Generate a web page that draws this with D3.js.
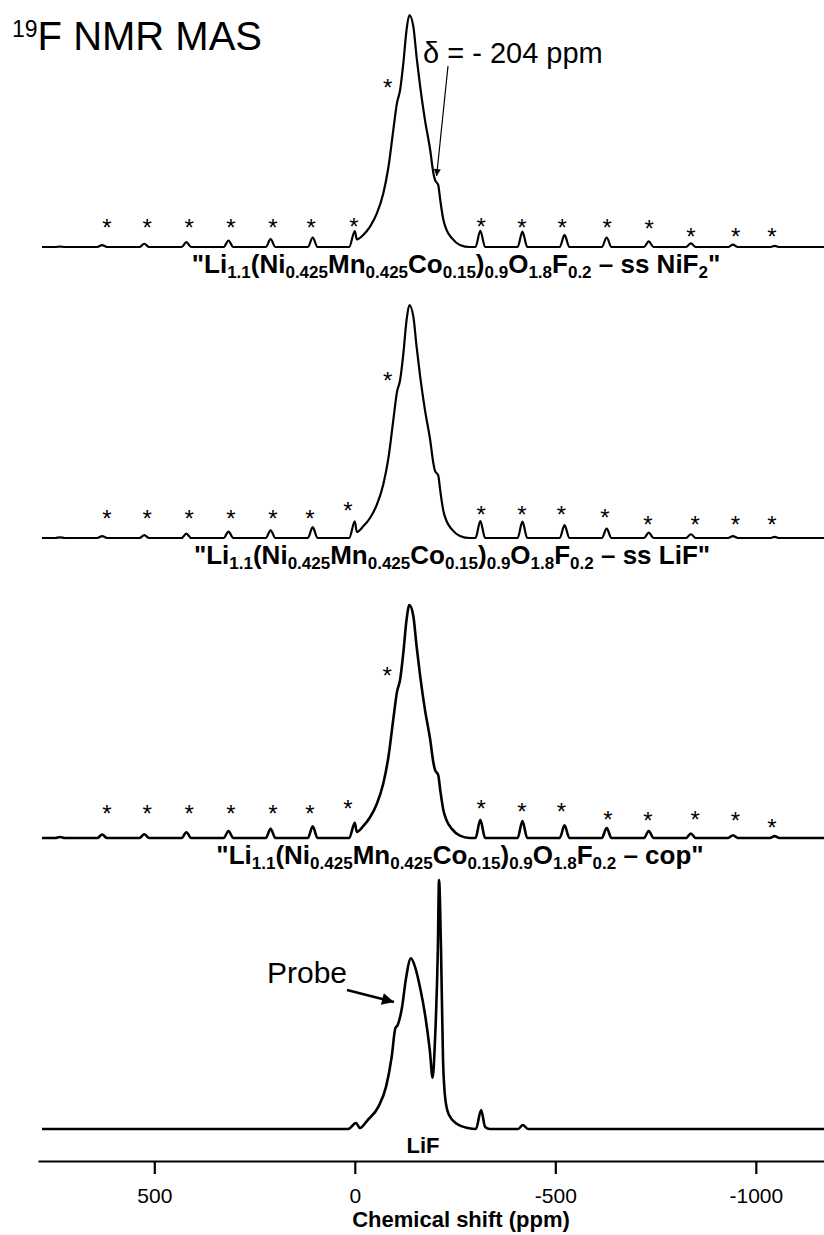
<!doctype html>
<html>
<head>
<meta charset="utf-8">
<script src="https://cdn.jsdelivr.net/npm/d3@7"></script>
<style>
  body { margin: 0; background: #fff; }
  svg { display: block; font-family: "Liberation Sans", Arial, sans-serif; }
</style>
</head>
<body>
<svg width="824" height="1235"></svg>
<script>
// spinning sidebands (ppm) of the three fluorinated samples (the one at 0 ppm sits in the main trace)
var sbPpm = [735, 630, 525, 420, 315, 210, 105, -313, -418, -523, -628, -733, -838, -943, -1047];
// sideband heights, main peak = 100
var sb1 = [0.2, 0.8, 1.4, 2.1, 2.8, 3.4, 4.1, 7.0, 6.6, 5.2, 4.1, 2.4, 1.6, 1.0, 0.5];
var sb2 = [0.3, 0.8, 1.2, 1.9, 2.7, 3.3, 4.7, 7.3, 7.0, 5.5, 4.0, 2.3, 1.6, 0.8, 0.5];
var sb3 = [0.4, 1.5, 1.6, 2.5, 3.0, 4.0, 5.0, 7.8, 7.3, 5.4, 4.3, 3.0, 1.9, 1.2, 0.8];

// main resonance (with the 0 ppm sideband on its left flank)
var mainPpm = [14, 0, -5, -21, -38, -55, -71, -84, -96, -105, -113, -121, -129, -136, -146, -154, -163, -175, -188, -196, -200, -208, -213, -221, -229, -242, -262, -287];
var main1 = [0, 6.8, 3.3, 5.2, 8.8, 14.5, 23.1, 34.6, 50.4, 61.9, 67.7, 79.2, 93.5, 100, 95.0, 82.0, 69.1, 54.7, 41.8, 31.8, 28.9, 26.7, 20.3, 11.6, 7.3, 3.8, 0.9, 0];
var main2 = [0, 7.1, 2.6, 5.0, 8.6, 14.3, 23.0, 34.5, 50.6, 62.5, 67.8, 79.0, 93.4, 100, 95.0, 82.2, 69.3, 54.9, 42.0, 32.0, 28.8, 26.9, 20.4, 11.5, 7.2, 3.7, 0.9, 0];
var main3 = [0, 6.5, 2.6, 5.1, 8.9, 14.7, 23.4, 35.0, 51.0, 62.5, 68.0, 79.5, 93.6, 100, 95.2, 82.4, 69.5, 55.0, 42.2, 32.3, 29.2, 27.0, 20.6, 11.8, 7.5, 3.9, 1.0, 0];

// LiF reference sample (LiF line = 100)
var lifPpm = [17, -3, -13, -32, -59, -78, -92, -101, -107, -118, -127, -140, -150, -164, -176, -187, -194, -200, -207, -210, -215, -220, -226, -235, -255, -282, -302, -315, -325, -337, -407, -419, -432];
var lifInt = [0, 2.4, 0.4, 3.6, 9.0, 17.0, 29.0, 40.4, 41.8, 49.1, 59.8, 68.6, 65.2, 55.8, 45.1, 31.7, 20.6, 35.7, 71.9, 100, 71.9, 27.7, 11.6, 5.6, 2.0, 0.4, 0, 7.6, 0.8, 0, 0, 1.6, 0];

// asterisks marking sidebands: ppm and height (same units as the trace)
var starPpm1 = [618, 518, 413, 309, 204, 109, 2, -82, -315, -417, -517, -629, -734, -838, -950, -1040];
var starLvl1 = [10.3, 10.3, 10.3, 10.3, 10.3, 10.3, 10.8, 70.7, 10.8, 10.3, 10.3, 10.3, 9.8, 6.5, 6.5, 6.5];
var starPpm2 = [618, 518, 413, 309, 204, 112, 17, -82, -315, -417, -515, -624, -731, -849, -949, -1040];
var starLvl2 = [10.5, 10.5, 10.5, 10.5, 10.5, 10.5, 13.7, 69.5, 11.9, 11.9, 11.9, 10.9, 7.9, 7.9, 7.9, 7.9];
var starPpm3 = [618, 518, 413, 309, 204, 112, 17, -81, -315, -417, -515, -631, -731, -849, -949, -1040];
var starLvl3 = [12.3, 12.3, 12.3, 12.3, 12.3, 12.3, 14.5, 71.7, 14.5, 13.4, 13.4, 9.9, 9.4, 9.9, 9.4, 6.3];

var tickValues = [500, 0, -500, -1000];

var svg = d3.select("svg"),
    W = 824, H = 1235;

var x = d3.scaleLinear().domain([790, -1170]).range([38, W]);

// one vertical band per spectrum: baseline and top of the tallest line
var panels = [
    { base: 247, top: 15, sb: sb1, main: main1, sp: starPpm1, sl: starLvl1, label: "ss NiF", tail: "2", sw: 2.2 },
    { base: 538, top: 305, sb: sb2, main: main2, sp: starPpm2, sl: starLvl2, label: "ss LiF", tail: "", sw: 2.2 },
    { base: 838, top: 605, sb: sb3, main: main3, sp: starPpm3, sl: starLvl3, label: "cop", tail: "", sw: 2.6 }
];
var labelX = [456, 452, 460];

function trace(p) {
    var pts = [[780, 0], [-1170, 0]];
    sbPpm.forEach(function(q, i) {
        pts.push([q + 12, 0], [q, p.sb[i]], [q - 12, 0]);
    });
    mainPpm.forEach(function(q, i) { pts.push([q, p.main[i]]); });
    pts.sort(function(a, b) { return b[0] - a[0]; });
    return pts;
}

panels.forEach(function(p, k) {
    var y = d3.scaleLinear().domain([0, 100]).range([p.base, p.top]);
    var line = d3.line()
        .x(function(d) { return x(d[0]); })
        .y(function(d) { return y(d[1]); })
        .curve(d3.curveMonotoneX);

    svg.append("path")
        .datum(trace(p))
        .attr("d", line)
        .attr("fill", "none")
        .attr("stroke", "#000")
        .attr("stroke-width", p.sw)
        .attr("stroke-linejoin", "round");

    svg.selectAll(".star" + k)
        .data(p.sp)
        .enter().append("text")
        .attr("x", function(d) { return x(d); })
        .attr("y", function(d, i) { return y(p.sl[i]) + 13; })
        .attr("text-anchor", "middle")
        .attr("font-size", "24px")
        .text("*");

    // sample label with subscripts
    var parts = [["\"Li", 0], ["1.1", 1], ["(Ni", 0], ["0.425", 1], ["Mn", 0], ["0.425", 1], ["Co", 0], ["0.15", 1],
                 [")", 0], ["0.9", 1], ["O", 0], ["1.8", 1], ["F", 0], ["0.2", 1], [" \u2013 " + p.label, 0]];
    if (p.tail) parts.push([p.tail, 1]);
    parts.push(["\"", 0]);
    var t = svg.append("text")
        .attr("x", labelX[k])
        .attr("y", p.base + 25.5)
        .attr("text-anchor", "middle")
        .attr("font-weight", "bold")
        .attr("font-size", "26px");
    var prev = 0;
    parts.forEach(function(s) {
        t.append("tspan")
            .attr("dy", (s[1] - prev) * 5)
            .attr("font-size", s[1] ? "17px" : "26px")
            .text(s[0]);
        prev = s[1];
    });
});

// LiF reference
var y4 = d3.scaleLinear().domain([0, 100]).range([1129, 880]);
var lifPts = [[780, 0]];
lifPpm.forEach(function(q, i) { lifPts.push([q, lifInt[i]]); });
lifPts.push([-1170, 0]);
svg.append("path")
    .datum(lifPts)
    .attr("d", d3.line()
        .x(function(d) { return x(d[0]); })
        .y(function(d) { return y4(d[1]); })
        .curve(d3.curveMonotoneX))
    .attr("fill", "none")
    .attr("stroke", "#000")
    .attr("stroke-width", 2.6)
    .attr("stroke-linejoin", "round");

svg.append("text")
    .attr("x", 423).attr("y", 1153)
    .attr("text-anchor", "middle")
    .attr("font-weight", "bold")
    .attr("font-size", "22px")
    .text("LiF");

// arrowheads
var defs = svg.append("defs");
defs.append("marker")
    .attr("id", "headThin")
    .attr("viewBox", "0 0 10 10")
    .attr("refX", 10).attr("refY", 5)
    .attr("markerWidth", 9).attr("markerHeight", 7)
    .attr("markerUnits", "userSpaceOnUse")
    .attr("orient", "auto")
    .append("path").attr("d", "M0,0L10,5L0,10Z");
defs.append("marker")
    .attr("id", "headThick")
    .attr("viewBox", "0 0 10 10")
    .attr("refX", 10).attr("refY", 5)
    .attr("markerWidth", 15).attr("markerHeight", 12)
    .attr("markerUnits", "userSpaceOnUse")
    .attr("orient", "auto")
    .append("path").attr("d", "M0,0L10,5L0,10Z");

// title
var title = svg.append("text")
    .attr("x", 12).attr("y", 50)
    .attr("font-size", "40px");
title.append("tspan").attr("font-size", "23px").attr("dy", -13).text("19");
title.append("tspan").attr("dy", 13).text("F NMR MAS");

// delta annotation
svg.append("text")
    .attr("x", 423).attr("y", 63)
    .attr("font-size", "29px")
    .text("\u03b4 = - 204 ppm");
svg.append("line")
    .attr("x1", 448).attr("y1", 66)
    .attr("x2", x(-204)).attr("y2", 176)
    .attr("stroke", "#000").attr("stroke-width", 1.2)
    .attr("marker-end", "url(#headThin)");

// probe annotation
svg.append("text")
    .attr("x", 267).attr("y", 983)
    .attr("font-size", "30px")
    .text("Probe");
svg.append("line")
    .attr("x1", 347).attr("y1", 990)
    .attr("x2", 394).attr("y2", 1002)
    .attr("stroke", "#000").attr("stroke-width", 2.4)
    .attr("marker-end", "url(#headThick)");

// axis
var axis = svg.append("g")
    .attr("transform", "translate(0,1161)")
    .call(d3.axisBottom(x)
        .tickValues(tickValues)
        .tickSize(13)
        .tickSizeOuter(0)
        .tickPadding(14)
        .tickFormat(function(d) { return String(d); }));
axis.select(".domain").attr("stroke-width", 2.2);
axis.selectAll(".tick line").attr("stroke-width", 2.2);
axis.selectAll(".tick text")
    .attr("font-family", "\"Liberation Sans\", Arial, sans-serif")
    .attr("font-size", "21px")
    .attr("fill", "#000");

svg.append("text")
    .attr("x", 461).attr("y", 1227)
    .attr("text-anchor", "middle")
    .attr("font-weight", "bold")
    .attr("font-size", "22px")
    .text("Chemical shift (ppm)");
</script>
</body>
</html>
